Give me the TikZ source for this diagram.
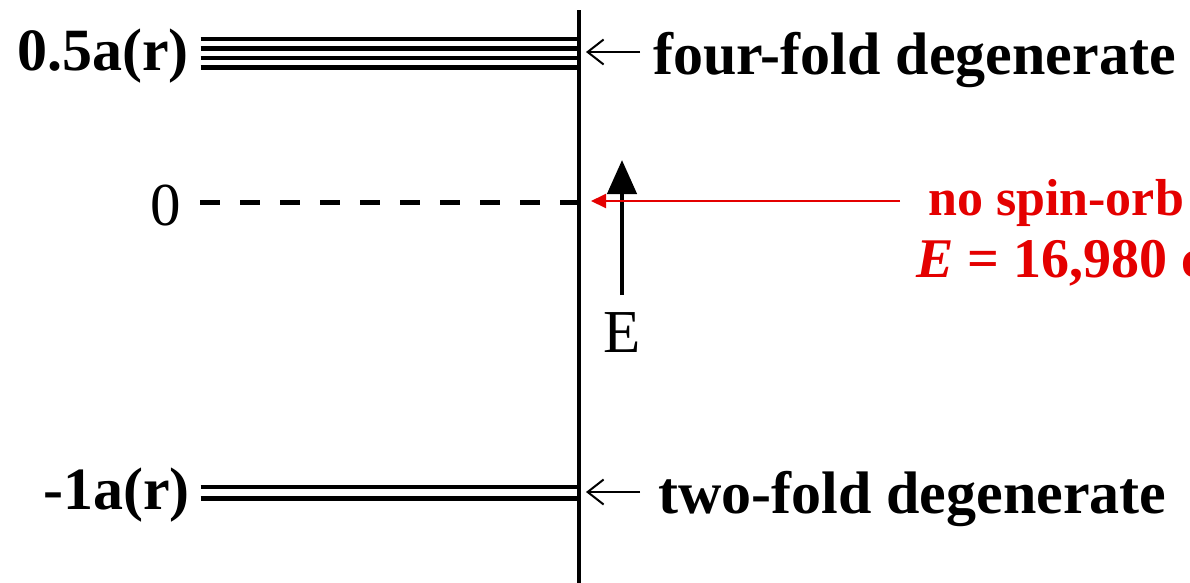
\documentclass[tikz,border=0pt]{standalone}
\usepackage{fontspec}
\setmainfont{Liberation Serif}
\usetikzlibrary{arrows.meta}
\definecolor{spinred}{RGB}{228,0,0}
\tikzset{
  level/.style={line width=4.5pt},
  axisline/.style={line width=4pt},
  boldlabel/.style={inner sep=0pt, font=\fontsize{60}{60}\selectfont\bfseries},
  plainlabel/.style={inner sep=0pt, font=\fontsize{61}{61}\selectfont},
  redlabel/.style={inner sep=0pt, text=spinred, font=\fontsize{52}{60}\selectfont\bfseries},
  pointer/.style={line width=2pt, -{Straight Barb[length=16pt,width=25pt,line width=2pt]}},
}
\begin{document}
\begin{tikzpicture}[x=1pt,y=-1pt]
\useasboundingbox (0,0) rectangle (1190,582);
\clip (0,0) rectangle (1190,582);
% vertical axis
\coordinate (vtop) at (579,10);
\coordinate (vbot) at (579,584);
\draw[axisline] (vtop) -- (vbot);
% four-fold levels
\foreach \i/\y in {1/39,2/48.5,3/58,4/67.5}{
  \coordinate (fl\i) at (200.5,\y);
  \coordinate (fr\i) at (579,\y);
  \draw[level] (fl\i) -- (fr\i);
}
% two-fold levels
\foreach \i/\y in {1/487,2/498.5}{
  \coordinate (tl\i) at (200.5,\y);
  \coordinate (tr\i) at (579,\y);
  \draw[level] (tl\i) -- (tr\i);
}
% zero level dashed
\coordinate (zl) at (200,202);
\coordinate (zr) at (579,202);
\draw[line width=5pt, dash pattern=on 20pt off 20pt] (zl) -- (zr);
% labels left
\node[boldlabel, anchor=base east] (half) at (189,70) {0.5a(r)};
\node[plainlabel, anchor=base east] (zero) at (181,225) {0};
\node[boldlabel, anchor=base east] (minus) at (190,509) {-1a(r)};
% right labels
\node[boldlabel, anchor=base west] (four) at (653,74) {four-fold degenerate};
\node[boldlabel, anchor=base west] (two) at (658,513) {two-fold degenerate};
\coordinate (fa1) at (640,52);
\coordinate (fa2) at (586,52);
\draw[pointer] (fa1) -- (fa2);
\coordinate (ta1) at (640,492);
\coordinate (ta2) at (586,492);
\draw[pointer] (ta1) -- (ta2);
% energy arrow
\node[plainlabel, anchor=base] (E) at (622,352) {E};
\coordinate (eb) at (622,295);
\coordinate (et) at (622,160);
\draw[line width=4.5pt, -{Triangle[length=34pt,width=29pt]}] (eb) -- (et);
% red annotation
\node[redlabel, anchor=base west] (nso) at (928,215) {no spin-orb};
\node[redlabel, anchor=base west, font=\fontsize{56}{60}\selectfont\bfseries] (eval) at (916,277) {\textit{E} = 16,980 c};
\coordinate (rs) at (900,201);
\coordinate (re) at (591,201);
\draw[spinred, line width=2pt, -{Triangle[length=15pt,width=14pt]}] (rs) -- (re);
\end{tikzpicture}
\end{document}
